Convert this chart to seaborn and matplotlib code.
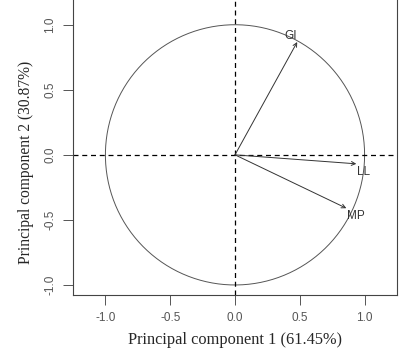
import numpy as np
import pandas as pd
import matplotlib
matplotlib.use("Agg")
import matplotlib.pyplot as plt
import seaborn as sns

# loadings
variables = ["GI", "LL", "MP"]
pc1 = [0.48, 0.936, 0.859]
pc2 = [0.867, -0.069, -0.41]
label_x = [0.43, 0.99, 0.93]
label_y = [0.91, -0.13, -0.47]

ticks = [-1.0, -0.5, 0.0, 0.5, 1.0]
xlab = "Principal component 1 (61.45%)"
ylab = "Principal component 2 (30.87%)"

sns.set_style("white")
plt.rcParams['font.family'] = ['Liberation Sans', 'DejaVu Sans']

fig = plt.figure(figsize=(4.05, 3.55), dpi=100)
ax = fig.add_axes([73 / 405, 1 - 295 / 355, 324 / 405, 295 / 355])

# correlation circle
theta = np.linspace(0, 2 * np.pi, 400)
circ = pd.DataFrame({"x": np.cos(theta), "y": np.sin(theta)})
sns.lineplot(data=circ, x="x", y="y", sort=False, estimator=None,
             color="#555555", linewidth=0.7, ax=ax)

ax.axhline(0, color="black", linestyle=(0, (4, 3)), linewidth=0.9)
ax.axvline(0, color="black", linestyle=(0, (4, 3)), linewidth=0.9)

for v, x, y, lx, ly in zip(variables, pc1, pc2, label_x, label_y):
    ax.annotate("", xy=(x, y), xytext=(0, 0),
                arrowprops=dict(arrowstyle="->", color="#333333", lw=0.7,
                                shrinkA=0, shrinkB=0, mutation_scale=7))
    ax.text(lx, ly, v, fontsize=8.5, color="#333333", ha="center", va="center")

ax.set_xlim(-1.25, 1.25)
ax.set_ylim(-1.077, 1.19)
ax.set_xticks(ticks)
ax.set_yticks(ticks)
ax.set_xticklabels([f"{t:.1f}" for t in ticks], color="#555555", fontsize=8.5)
ax.set_yticklabels([f"{t:.1f}" for t in ticks], color="#555555", fontsize=8.5,
                   rotation=90, va="center")
ax.tick_params(axis="both", direction="out", length=7, width=0.7,
               color="#555555", left=True, bottom=True, pad=5)

for side in ["left", "right", "bottom"]:
    ax.spines[side].set_color("#444444")
    ax.spines[side].set_linewidth(0.8)
ax.spines["top"].set_visible(False)

serif = ["Liberation Serif", "DejaVu Serif"]
ax.set_xlabel(xlab, fontsize=11.8, family=serif, labelpad=6)
ax.set_ylabel(ylab, fontsize=11.2, family=serif, va="center")
ax.yaxis.set_label_coords(-0.145, 0.45)

fig.savefig("out.png", dpi=100)
